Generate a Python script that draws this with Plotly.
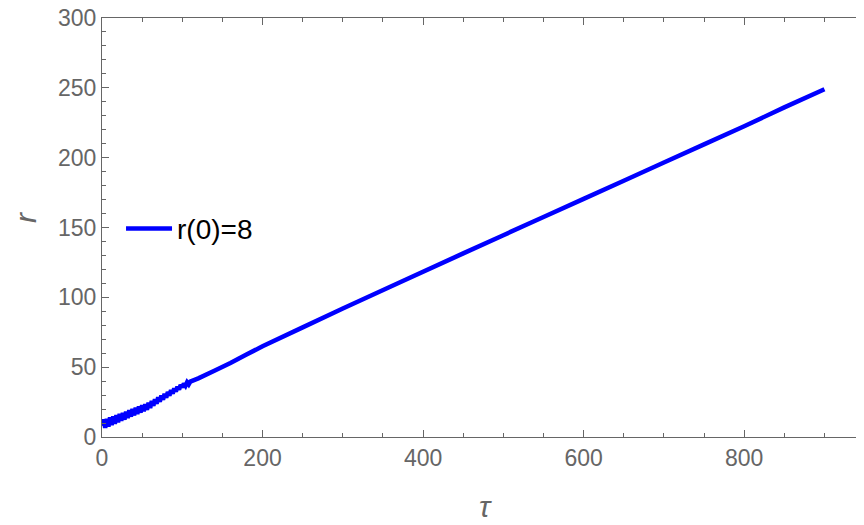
import plotly.graph_objects as go

# Trajectory r(tau): fast oscillation at the start, then close to linear
tau = [0, 2, 4, 6, 8, 10, 12, 14, 16, 18, 20, 22, 24, 26, 28, 30, 32, 34, 36, 38,
       40, 42, 44, 46, 48, 50, 52, 54, 56, 58, 60, 62, 64, 66, 68, 70, 72, 74, 76, 78,
       80, 82, 84, 86, 88, 90, 92, 94, 96, 98, 100, 102, 104, 106, 108, 110,
       120, 140, 160, 180, 200, 250, 300, 372, 450, 500, 550, 600, 650, 700,
       750, 800, 850, 900]
r = [8, 12.5, 6.5, 13, 7.5, 14, 8.5, 14.8, 9.5, 15.7, 10.5, 16.5, 11.6, 17.3, 12.4, 18.2,
     13.6, 19.1, 14.6, 20.0, 15.5, 21.0, 16.5, 21.8, 17.5, 22.7, 18.5, 23.5, 19.5, 24.6,
     20.8, 25.8, 22.3, 27.1, 23.8, 28.4, 25.2, 29.7, 26.7, 30.9, 28.1, 32.2, 29.6, 33.5,
     31.1, 34.7, 32.6, 35.9, 34.0, 37.2, 35.6, 38.3, 36.7, 39.2, 37.7, 39.7,
     42, 47.5, 53, 59, 65, 78.5, 92, 111, 131.5, 144.5, 157.5, 170.5, 183.5, 196.5,
     209.5, 222.5, 236, 249]

series_name = 'r(0)=8'
x_ticks = [0, 200, 400, 600, 800]
y_ticks = [0, 50, 100, 150, 200, 250, 300]

grey = '#666666'
font_family = 'Liberation Sans, Arial, sans-serif'

# page body has an 8px margin, so margins are shifted to keep the frame in place
W, H = 864, 525
ml, mr, mt, mb = 94, 9, 10, 96
plot_w = W - ml - mr
plot_h = H - mt - mb

fig = go.Figure()
fig.add_trace(go.Scatter(x=tau, y=r, mode='lines', name=series_name,
                         line=dict(color='#0000ff', width=4.5, simplify=False)))

axis_style = dict(showgrid=False, zeroline=False, showline=True, linecolor=grey,
                  linewidth=1.3, mirror='ticks', ticks='inside', ticklen=7,
                  tickcolor=grey, tickwidth=1, automargin=False,
                  ticklabeloverflow='allow',
                  tickfont=dict(family=font_family, size=23, color=grey))

fig.update_layout(
    width=W, height=H,
    margin=dict(l=ml, r=mr, t=mt, b=mb),
    paper_bgcolor='white', plot_bgcolor='white',
    showlegend=True,
    legend=dict(x=0.025, y=0.497, xanchor='left', yanchor='middle',
                bgcolor='rgba(0,0,0,0)', itemwidth=46,
                font=dict(family=font_family, size=28, color='black')),
    xaxis=dict(range=[0, 948], tickvals=x_ticks,
               minor=dict(dtick=50, tick0=0, ticks='inside', ticklen=4, tickcolor=grey),
               **axis_style),
    yaxis=dict(range=[0, 300], tickvals=y_ticks,
               minor=dict(dtick=10, tick0=0, ticks='inside', ticklen=4, tickcolor=grey),
               **axis_style),
    annotations=[
        dict(text='<i>τ</i>', x=(485 - 8 - ml) / plot_w, y=(H - mb - (507 - 8)) / plot_h,
             xref='paper', yref='paper', xanchor='center', yanchor='middle',
             showarrow=False, font=dict(family=font_family, size=30, color=grey)),
        dict(text='<i>r</i>', x=(25 - 8 - ml) / plot_w, y=(H - mb - (218 - 8)) / plot_h,
             xref='paper', yref='paper', xanchor='center', yanchor='middle',
             showarrow=False, textangle=-90,
             font=dict(family=font_family, size=30, color=grey)),
    ],
)

fig.write_html('out.html')
